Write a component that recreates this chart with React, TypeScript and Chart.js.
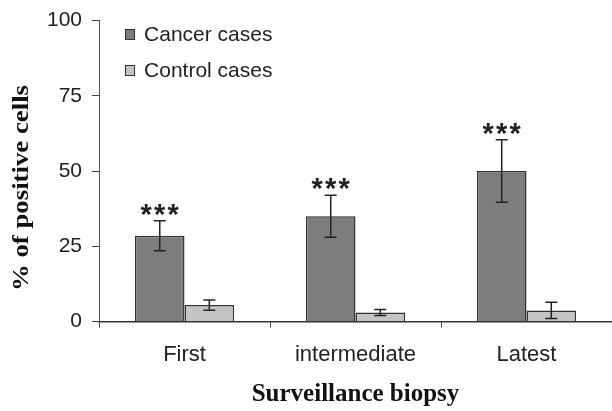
import React, { useEffect, useRef } from "react";
import { Chart, registerables } from "chart.js";

Chart.register(...registerables);

const categories = ["First", "intermediate", "Latest"];
const cancerValues = [28.5, 35, 50];
const cancerErrors = [5, 7, 10.4];
const controlValues = [5.5, 3, 3.7];
const controlErrors = [1.7, 1, 2.7];
const significance = ["***", "***", "***"];
const yTicks = [0, 25, 50, 75, 100];
const yTitle = "% of positive cells";
const xTitle = "Surveillance biopsy";

const SANS = "'Liberation Sans', Arial, sans-serif";
const SERIF = "'Liberation Serif', 'Times New Roman', serif";

const errorBarPlugin = {
  id: "errorBars",
  afterDatasetsDraw(chart: any) {
    const ctx = chart.ctx;
    const yScale = chart.scales.y;
    chart.data.datasets.forEach((ds: any, di: number) => {
      const meta = chart.getDatasetMeta(di);
      meta.data.forEach((bar: any, i: number) => {
        const v = ds.data[i];
        const e = ds.errors[i];
        const yTop = yScale.getPixelForValue(v + e);
        const yBot = yScale.getPixelForValue(v - e);
        const x = bar.x;
        ctx.save();
        ctx.strokeStyle = "#222";
        ctx.lineWidth = 1.5;
        ctx.beginPath();
        ctx.moveTo(x, yTop);
        ctx.lineTo(x, yBot);
        ctx.moveTo(x - 6, yTop);
        ctx.lineTo(x + 6, yTop);
        ctx.moveTo(x - 6, yBot);
        ctx.lineTo(x + 6, yBot);
        ctx.stroke();
        if (ds.marks) {
          const m = ds.marks[i];
          if (m) {
            ctx.fillStyle = "#222";
            ctx.font = "bold 29px " + SANS;
            ctx.textAlign = "center";
            ctx.textBaseline = "alphabetic";
            const n = m.length;
            for (let k = 0; k < n; k++) {
              const cx = x + (k - (n - 1) / 2) * 13.5;
              ctx.fillText(m[k], cx, yTop + 3);
            }
          }
        }
        ctx.restore();
      });
    });
  },
};

const legendPlugin = {
  id: "customLegend",
  afterDraw(chart: any) {
    const ctx = chart.ctx;
    const left = chart.chartArea.left + 26;
    const rows = [35, 71];
    ctx.save();
    chart.data.datasets.forEach((ds: any, i: number) => {
      const cy = rows[i];
      ctx.fillStyle = ds.backgroundColor;
      ctx.strokeStyle = "#333";
      ctx.lineWidth = 1;
      ctx.fillRect(left, cy - 6, 10, 11);
      ctx.strokeRect(left + 0.5, cy - 5.5, 9, 10);
      ctx.fillStyle = "#222";
      ctx.font = "21px " + SANS;
      ctx.textAlign = "left";
      ctx.textBaseline = "middle";
      ctx.fillText(ds.label, left + 19, cy);
    });
    ctx.restore();
  },
};

const yTitlePlugin = {
  id: "yTitle",
  afterDraw(chart: any) {
    const ctx = chart.ctx;
    ctx.save();
    ctx.font = "bold 24px " + SERIF;
    ctx.fillStyle = "#111";
    ctx.textAlign = "center";
    ctx.textBaseline = "middle";
    const w = ctx.measureText(yTitle).width;
    const target = 206;
    ctx.translate(22, 188);
    ctx.rotate(-Math.PI / 2);
    ctx.scale(target / w, 1);
    ctx.fillText(yTitle, 0, 0);
    ctx.restore();
  },
};

export default function App() {
  const ref = useRef<HTMLCanvasElement | null>(null);
  useEffect(() => {
    if (!ref.current) return;
    const chart = new Chart(ref.current, {
      type: "bar",
      data: {
        labels: categories,
        datasets: [
          {
            label: "Cancer cases",
            data: cancerValues,
            errors: cancerErrors,
            marks: significance,
            backgroundColor: "#7d7d7d",
            borderColor: "#333",
            borderWidth: 1.5,
            categoryPercentage: 0.58,
            barPercentage: 1,
          } as any,
          {
            label: "Control cases",
            data: controlValues,
            errors: controlErrors,
            backgroundColor: "#c4c4c4",
            borderColor: "#333",
            borderWidth: 1.5,
            categoryPercentage: 0.58,
            barPercentage: 1,
          } as any,
        ],
      },
      options: {
        animation: false,
        responsive: true,
        maintainAspectRatio: false,
        layout: { padding: { top: 8, right: 0, left: 37, bottom: 1 } },
        plugins: {
          legend: { display: false },
          tooltip: { enabled: false },
        },
        scales: {
          x: {
            grid: {
              offset: true,
              drawOnChartArea: false,
              tickLength: 6,
              color: "#444",
            },
            border: { color: "#333", width: 1.5 },
            ticks: {
              color: "#222",
              font: { family: SANS, size: 22 },
              padding: 14,
            },
            title: {
              display: true,
              text: xTitle,
              color: "#111",
              font: { family: SERIF, size: 25, weight: "bold" },
              padding: { top: -2, bottom: 0 },
            },
          },
          y: {
            min: 0,
            max: 100,
            afterBuildTicks: (axis: any) => {
              axis.ticks = yTicks.map((v) => ({ value: v }));
            },
            grid: {
              drawOnChartArea: false,
              tickLength: 7,
              color: "#444",
            },
            border: { color: "#555", width: 1 },
            ticks: {
              color: "#222",
              font: { family: SANS, size: 21, lineHeight: 1 },
              padding: 10,
            },
          },
        },
      },
      plugins: [errorBarPlugin, legendPlugin, yTitlePlugin],
    });
    return () => chart.destroy();
  }, []);
  return (
    <div style={{ position: "fixed", left: 0, top: 0, width: 612, height: 411, background: "#fff" }}>
      <canvas ref={ref} />
    </div>
  );
}
